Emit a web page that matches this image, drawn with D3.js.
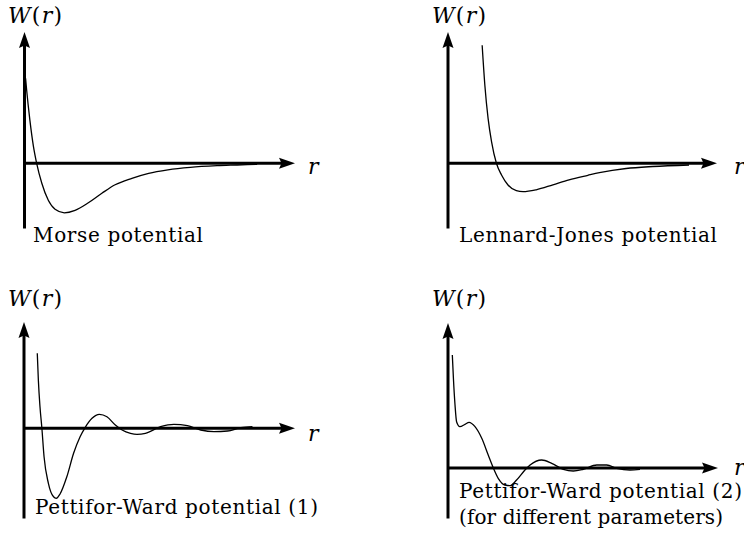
<!DOCTYPE html>
<html>
<head>
<meta charset="utf-8">
<script src="https://cdn.jsdelivr.net/npm/d3@7"></script>
<style>
body { margin: 0; background: #fff; }
svg text { font-family: "DejaVu Serif", "Times New Roman", Times, "Liberation Serif", serif !important; }
</style>
</head>
<body>
<div id="app"></div>
<script>
// values (r along the axis, W above/below it)
const morseR = [0.04, 0.08, 0.2, 0.33, 0.45, 0.64, 0.88, 1.13, 1.47, 1.87, 2.36, 2.86, 3.35, 3.97, 4.59, 5.3, 6.13, 7.12, 7.86, 8.6];
const morseW = [8.5, 7.3, 4.3, 1.7, 0, -2.0, -3.7, -4.6, -4.95, -4.7, -3.95, -3.0, -2.15, -1.5, -1.0, -0.65, -0.4, -0.24, -0.17, -0.1];

const ljR = [1.27, 1.37, 1.49, 1.62, 1.8, 1.99, 2.23, 2.54, 2.79, 3.28, 3.9, 4.5, 5.2, 5.63, 6.62, 7.61, 8.96];
const ljW = [11.8, 7.8, 4.5, 2.15, 0, -1.17, -2.17, -2.74, -2.84, -2.65, -2.15, -1.65, -1.2, -0.94, -0.52, -0.32, -0.17];

const pw1R = [0.49, 0.53, 0.59, 0.66, 0.74, 0.9, 1.09, 1.19, 1.33, 1.58, 1.83, 2.07, 2.26, 2.51, 2.78, 3.06, 3.37, 3.62, 3.93, 4.17, 4.48, 5.04, 5.53, 6.03, 6.52, 7.01, 7.51, 8.0, 8.43];
const pw1W = [7.5, 4.8, 2.15, 0, -2.85, -5.5, -6.85, -7.0, -6.57, -4.85, -2.5, -0.85, 0.1, 1.0, 1.4, 1.16, 0.33, -0.17, -0.5, -0.6, -0.5, 0.16, 0.4, 0.26, -0.17, -0.34, -0.27, 0.06, 0.16];

const pw2R = [0.16, 0.2, 0.26, 0.32, 0.44, 0.63, 0.78, 1.0, 1.25, 1.49, 1.68, 1.86, 2.11, 2.3, 2.54, 2.85, 3.04, 3.47, 3.84, 4.27, 4.64, 5.01, 5.51, 5.88, 6.25, 6.74, 7.11];
const pw2W = [11.3, 9.0, 6.3, 4.6, 4.13, 4.37, 4.57, 4.13, 2.97, 1.3, 0, -1.03, -1.7, -1.77, -1.2, -0.2, 0.3, 0.8, 0.47, -0.13, -0.3, -0.13, 0.3, 0.3, -0.03, -0.2, -0.13];

const titles = [
    ["Morse potential"],
    ["Lennard-Jones potential"],
    ["Pettifor-Ward potential (1)"],
    ["Pettifor-Ward potential (2)", "(for different parameters)"]
];
const yLabel = ["W", "(", "r", ")"];
const xLabel = "r";

const series = [[morseR, morseW], [ljR, ljW], [pw1R, pw1W], [pw2R, pw2W]];

// layout of the four small panels
const panels = [
    { x0: 24.5, tip: 295, top: 32, bottom: 228, axisY: 163.3, wx: 8, wy: 23, rx: 308, ry: 174, tx: 33, ty: [242], tw: [170] },
    { x0: 448, tip: 717, top: 32, bottom: 228, axisY: 163.3, wx: 432, wy: 23, rx: 734, ry: 174, tx: 459, ty: [242], tw: [258] },
    { x0: 24, tip: 295, top: 322, bottom: 518, axisY: 428.3, wx: 8, wy: 306, rx: 308, ry: 441, tx: 35, ty: [514], tw: [283] },
    { x0: 448, tip: 718, top: 323, bottom: 518, axisY: 468, wx: 432, wy: 306, rx: 734, ry: 475, tx: 459, ty: [498, 524], tw: [283, 264] }
];

const w = 744, h = 546;
const svg = d3.select("#app")
    .append("svg")
    .attr("width", w)
    .attr("height", h)
    .style("background-color", "#fff");

panels.forEach((p, i) => {
    const g = svg.append("g");
    const data = series[i][0].map((r, k) => [r, series[i][1][k]]);

    const xScale = d3.scaleLinear()
        .domain([0, 10])
        .range([p.x0, p.tip]);
    const yScale = d3.scaleLinear()
        .domain([(p.axisY - p.bottom) / 10, (p.axisY - p.top) / 10])
        .range([p.bottom, p.top]);

    const xAxis = d3.axisBottom(xScale.copy().range([p.x0, p.tip - 8])).tickValues([]).tickSizeOuter(0);
    const yAxis = d3.axisLeft(yScale.copy().range([p.bottom, p.top + 8])).tickValues([]).tickSizeOuter(0);

    g.append("g")
        .attr("transform", "translate(0," + (yScale(0) - 0.5) + ")")
        .call(xAxis)
        .select(".domain")
        .attr("stroke", "#000")
        .attr("stroke-width", 3);

    g.append("g")
        .attr("transform", "translate(" + (p.x0 - 0.5) + ",0)")
        .call(yAxis)
        .select(".domain")
        .attr("stroke", "#000")
        .attr("stroke-width", 3);

    const ay = yScale(0), tx = xScale(10);
    g.append("path")
        .attr("d", `M${tx},${ay}L${tx - 16},${ay - 5.5}L${tx - 13.5},${ay}L${tx - 16},${ay + 5.5}Z`)
        .attr("fill", "#000");
    const ty = yScale.range()[1];
    g.append("path")
        .attr("d", `M${p.x0},${ty}L${p.x0 - 5.5},${ty + 16}L${p.x0},${ty + 13.5}L${p.x0 + 5.5},${ty + 16}Z`)
        .attr("fill", "#000");

    const line = d3.line()
        .x(d => xScale(d[0]))
        .y(d => yScale(d[1]))
        .curve(d3.curveMonotoneX);

    g.append("path")
        .datum(data)
        .attr("d", line)
        .attr("fill", "none")
        .attr("stroke", "#000")
        .attr("stroke-width", 1.3);

    const wl = g.append("text")
        .attr("x", p.wx)
        .attr("y", p.wy)
        .attr("font-size", 22)
        .attr("textLength", 54);
    yLabel.forEach(s => {
        wl.append("tspan")
            .attr("font-style", (s == "W" || s == "r") ? "italic" : "normal")
            .text(s);
    });

    g.append("text")
        .attr("x", p.rx)
        .attr("y", p.ry)
        .attr("font-size", 22)
        .attr("font-style", "italic")
        .text(xLabel);

    titles[i].forEach((t, k) => {
        g.append("text")
            .attr("x", p.tx)
            .attr("y", p.ty[k])
            .attr("font-size", 20)
            .attr("textLength", p.tw[k])
            .text(t);
    });
});
</script>
</body>
</html>
